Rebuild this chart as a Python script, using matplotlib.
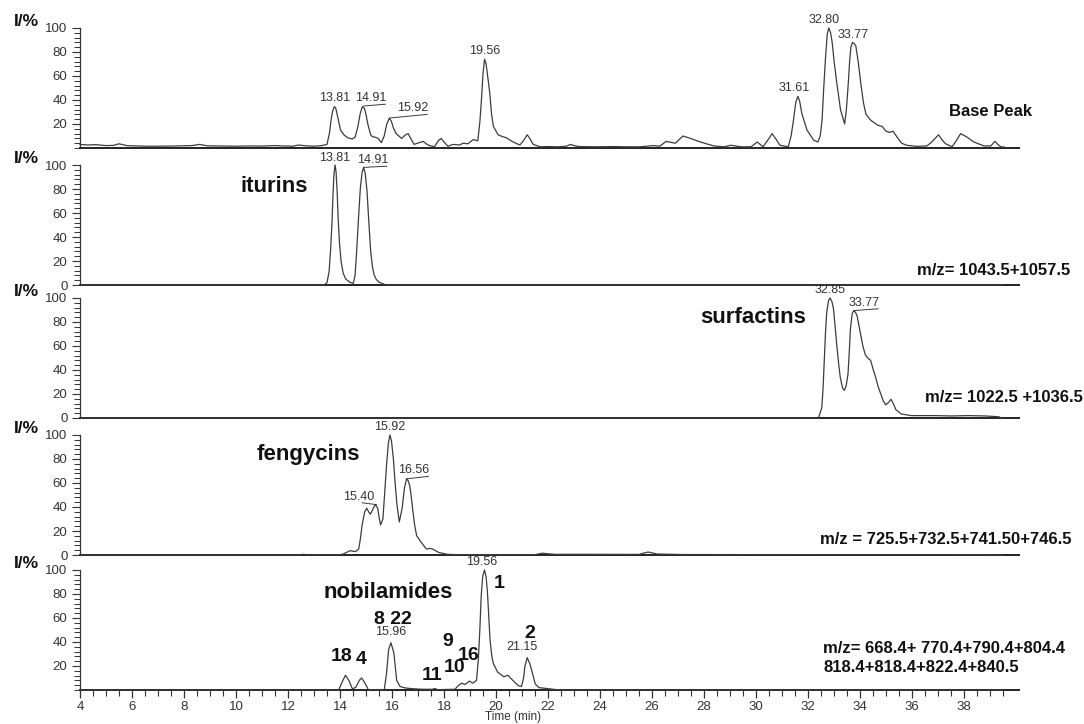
import matplotlib
matplotlib.use('Agg')
import matplotlib.pyplot as plt
import numpy as np
from matplotlib.ticker import MultipleLocator, FixedLocator

plt.rcParams['font.family'] = ['Liberation Sans', 'DejaVu Sans']

# traces: (time in min, relative intensity %)
base_peak = [(4.0, 3), (4.3, 2.5), (4.6, 2.8), (5.0, 2), (5.3, 2.2), (5.5, 3.5), (5.8, 2), (6.5, 1.5),
             (7.0, 1.5), (7.5, 1.6), (8.0, 1.8), (8.3, 2), (8.6, 3), (8.9, 1.8), (9.5, 1.6), (10.0, 1.5),
             (10.5, 1.7), (11.0, 1.6), (11.5, 2), (11.8, 1.7), (12.2, 1.5), (12.4, 2.5), (12.7, 1.8),
             (13.0, 1.5), (13.3, 2), (13.5, 3), (13.6, 13), (13.66, 24), (13.72, 31), (13.78, 34.5),
             (13.84, 33), (13.92, 25), (14.02, 15), (14.15, 11), (14.3, 8.5), (14.47, 7.5), (14.58, 9),
             (14.68, 17), (14.78, 29), (14.86, 34.5), (14.94, 33), (15.0, 28), (15.08, 19), (15.18, 11),
             (15.24, 9.5), (15.35, 9), (15.47, 8), (15.59, 4.5), (15.7, 10), (15.8, 20), (15.9, 25),
             (15.98, 22), (16.05, 17), (16.16, 12), (16.37, 8), (16.52, 11), (16.62, 12), (16.72, 8),
             (16.85, 3), (17.05, 4.5), (17.2, 5.5), (17.35, 3), (17.45, 2), (17.63, 1), (17.78, 6),
             (17.89, 8), (18.0, 5), (18.15, 1.5), (18.35, 3), (18.6, 2.5), (18.73, 4), (18.92, 3.5),
             (19.12, 7), (19.3, 6), (19.38, 22), (19.44, 40), (19.5, 62), (19.56, 74), (19.62, 70),
             (19.69, 58), (19.76, 46), (19.83, 28), (19.9, 18), (20.08, 11), (20.25, 9.5), (20.4, 8.5),
             (20.66, 5), (20.92, 2.5), (21.05, 6), (21.2, 11), (21.3, 8), (21.43, 3), (21.7, 1), (22.0, 1.2),
             (22.4, 1), (22.7, 1.5), (22.87, 3), (23.0, 2), (23.2, 1.2), (23.8, 1), (24.5, 1.2), (25.0, 1),
             (25.53, 1), (26.05, 2), (26.3, 1.5), (26.54, 5.5), (26.9, 4), (27.19, 10), (27.48, 8),
             (27.86, 5), (28.38, 1.7), (28.77, 1), (29.03, 2.3), (29.42, 1), (29.81, 1), (30.05, 5),
             (30.27, 1), (30.5, 8), (30.62, 12), (30.75, 8), (30.92, 2.3), (31.24, 1), (31.35, 10),
             (31.44, 23), (31.53, 38), (31.61, 43), (31.68, 39), (31.76, 29), (31.96, 15), (32.22, 6.5),
             (32.38, 5), (32.47, 10), (32.54, 23), (32.6, 48), (32.67, 74), (32.74, 95), (32.80, 100),
             (32.87, 96), (32.93, 88), (33.0, 73), (33.09, 57), (33.25, 32), (33.41, 20), (33.48, 33),
             (33.55, 54), (33.6, 72), (33.65, 84), (33.71, 88), (33.78, 87), (33.84, 85), (33.93, 72),
             (34.03, 54), (34.13, 38), (34.23, 28), (34.42, 23), (34.68, 19), (34.85, 18), (35.0, 14),
             (35.14, 13), (35.27, 14), (35.46, 8), (35.6, 4), (35.79, 2.3), (36.18, 1.4), (36.57, 1.7),
             (36.76, 5), (37.02, 11), (37.15, 7), (37.28, 3.7), (37.54, 1), (37.7, 6), (37.87, 12),
             (38.12, 9), (38.38, 5), (38.77, 1.7), (39.03, 1.7), (39.19, 5.6), (39.3, 3), (39.42, 1),
             (39.55, 0.8)]

iturins = [(4.0, 0), (13.39, 0), (13.5, 2), (13.58, 11), (13.64, 30), (13.69, 51), (13.73, 75),
           (13.77, 93), (13.81, 100), (13.85, 94), (13.89, 78), (13.93, 55), (13.98, 35), (14.04, 20),
           (14.12, 10), (14.22, 5), (14.38, 2.3), (14.51, 1.4), (14.58, 8), (14.64, 28), (14.71, 55),
           (14.78, 80), (14.85, 94), (14.91, 98), (14.97, 93), (15.04, 78), (15.11, 52), (15.18, 28),
           (15.25, 15), (15.31, 8.5), (15.4, 4.5), (15.51, 2.3), (15.77, 0), (39.5, 0)]

surfactins = [(4.0, 0), (32.40, 0), (32.53, 8.5), (32.58, 25), (32.62, 45), (32.67, 70), (32.72, 88),
              (32.79, 98), (32.85, 100), (32.92, 97), (32.98, 91), (33.04, 77), (33.11, 60), (33.18, 45),
              (33.24, 34), (33.33, 25), (33.40, 23), (33.47, 27), (33.54, 37), (33.59, 56), (33.63, 74),
              (33.70, 87), (33.76, 89.5), (33.83, 88), (33.89, 85), (33.96, 77), (34.04, 68), (34.12, 59),
              (34.21, 52.5), (34.30, 50), (34.41, 48), (34.5, 41), (34.60, 34), (34.70, 26), (34.80, 20),
              (34.9, 14), (34.99, 11), (35.10, 13), (35.19, 15.6), (35.28, 12), (35.38, 7), (35.58, 3.4),
              (35.97, 2), (36.88, 2), (37.52, 1.7), (38.17, 2), (38.82, 1.7), (39.34, 1), (39.45, 0)]

fengycins = [(4.0, 0), (12.4, 0), (12.59, 0.6), (12.8, 0), (14.0, 0.3), (14.12, 0.8), (14.39, 3.6),
             (14.59, 2.8), (14.72, 5), (14.78, 13), (14.85, 25), (14.95, 36), (15.03, 39), (15.1, 36),
             (15.16, 34), (15.22, 36), (15.28, 39), (15.36, 42), (15.45, 39), (15.5, 32), (15.56, 25),
             (15.65, 30), (15.72, 52), (15.79, 75), (15.86, 93), (15.92, 100), (15.98, 95), (16.05, 81),
             (16.12, 60), (16.19, 42), (16.28, 27.5), (16.39, 39), (16.48, 56), (16.56, 63.5), (16.62, 62),
             (16.68, 58), (16.74, 49), (16.79, 39), (16.87, 25), (16.95, 16), (17.12, 10.7), (17.32, 5),
             (17.45, 5.5), (17.56, 5), (17.79, 2.2), (18.12, 0.6), (18.5, 0.3), (21.5, 0.3), (21.8, 1.5),
             (22.0, 1.0), (22.3, 0.5), (22.6, 0.6), (25.5, 0.5), (25.85, 2.5), (26.2, 0.8), (27.2, 0.4),
             (39.5, 0)]

nobilamides = [(4.0, 0), (13.95, 0), (14.08, 6.6), (14.21, 12.3), (14.34, 8), (14.48, 0.9), (14.61, 2.3),
               (14.74, 8), (14.83, 10), (14.94, 6.6), (15.09, 0.3), (15.70, 0), (15.79, 13.7),
               (15.87, 33.7), (15.96, 39.4), (16.07, 31), (16.18, 8), (16.31, 2.9), (16.51, 1.7),
               (16.77, 1.1), (17.17, 0.6), (17.55, 0.6), (17.65, 1.2), (17.75, 0.3), (18.42, 0.6),
               (18.55, 3.7), (18.68, 5.7), (18.81, 4.6), (18.98, 7.4), (19.11, 5.7), (19.25, 8),
               (19.32, 25), (19.38, 51), (19.43, 78), (19.49, 95), (19.56, 100), (19.62, 94), (19.67, 82),
               (19.72, 62), (19.77, 42), (19.84, 28), (19.90, 22), (20.06, 15), (20.30, 11), (20.45, 12.3),
               (20.65, 8), (20.85, 3.7), (20.98, 2.9), (21.06, 10), (21.11, 19.4), (21.2, 27), (21.3, 22),
               (21.37, 16.6), (21.51, 5), (21.65, 2), (22.45, 0), (39.5, 0)]

traces = [base_peak, iturins, surfactins, fengycins, nobilamides]

# retention-time labels: (peak time, peak height, text x, text y, leader?)
peak_labels = [
    [(13.81, 35, 13.81, 37, False), (14.91, 35, 15.2, 36.5, True), (15.92, 25, 16.8, 28, True),
     (19.56, 74, 19.56, 76, False), (31.61, 43, 31.45, 45, False), (32.80, 100, 32.63, 102, False),
     (33.77, 88, 33.75, 89, False)],
    [(13.81, 100, 13.81, 101, False), (14.91, 98, 15.25, 99, True)],
    [(32.85, 100, 32.85, 102, False), (33.77, 89.5, 34.15, 91, True)],
    [(15.40, 42, 14.7, 43.5, True), (15.92, 100, 15.92, 102, False), (16.56, 63.5, 16.85, 65.5, True)],
    [(15.96, 39.4, 15.96, 43, False), (19.56, 100, 19.45, 102, False), (21.15, 27, 21.0, 31, False)],
]

group_names = ['iturins', 'surfactins', 'fengycins', 'nobilamides']
group_pos = [(11.47, 82), (29.9, 84), (12.8, 84), (15.87, 81)]

mz_texts = ['Base Peak', 'm/z= 1043.5+1057.5', 'm/z= 1022.5 +1036.5', 'm/z = 725.5+732.5+741.50+746.5']
mz_pos = [(1.014, 0.30), (1.055, 0.117), (1.069, 0.175), (1.056, 0.133)]

compound_nums = ['18', '4', '8 22', '11', '10', '9', '16', '1', '2']
compound_pos = [(14.08, 28), (14.83, 25.5), (16.03, 59), (17.54, 12), (18.42, 18.5), (18.15, 40),
                (18.94, 29), (20.13, 89), (21.3, 47)]

W, H = 1084, 724
fig = plt.figure(figsize=(W / 100, H / 100), dpi=100)

left_px, width_px, height_px = 80, 938.6, 120
baselines = [148, 285, 418, 555, 690]
line_col = '#3c3c3c'
axes = []
for k, base in enumerate(baselines):
    ax = fig.add_axes([left_px / W, 1 - base / H, width_px / W, height_px / H])
    t, inten = zip(*traces[k])
    ax.plot(t, inten, color=line_col, lw=0.9, clip_on=False, zorder=3)
    ax.set_xlim(4, 40.1)
    ax.set_ylim(0, 100)
    for s in ['top', 'right']:
        ax.spines[s].set_visible(False)
    ax.spines['bottom'].set_linewidth(1.4)
    ax.spines['bottom'].set_color('#222222')
    ax.spines['left'].set_linewidth(0.9)
    ax.spines['left'].set_color('#333333')
    if k in (0, 4):
        ax.yaxis.set_major_locator(FixedLocator([20, 40, 60, 80, 100]))
    else:
        ax.yaxis.set_major_locator(FixedLocator([0, 20, 40, 60, 80, 100]))
    ax.yaxis.set_minor_locator(MultipleLocator(4))
    ax.tick_params(axis='y', which='major', direction='out', length=6, width=0.8,
                   labelsize=9.5, labelcolor='#333333', color='#333333', pad=3)
    ax.tick_params(axis='y', which='minor', direction='out', length=4, width=0.7, color='#333333')
    if k < 4:
        ax.tick_params(axis='x', which='both', bottom=False, labelbottom=False)
    else:
        ax.xaxis.set_major_locator(FixedLocator(np.arange(4, 39, 2)))
        ax.xaxis.set_minor_locator(FixedLocator(np.arange(4, 39.8, 0.5)))
        ax.tick_params(axis='x', which='major', direction='out', length=6, width=0.9,
                       labelsize=9.5, labelcolor='#333333', color='#333333', pad=2)
        ax.tick_params(axis='x', which='minor', direction='out', length=4, width=0.8, color='#333333')
    ax.text(-0.0703, 1.055, 'I/%', transform=ax.transAxes, ha='left', va='center',
            fontsize=12.5, fontweight='bold', color='#111111')
    for pt, pi, tx, ty, leader in peak_labels[k]:
        ax.text(tx, ty, f'{pt:.2f}', ha='center', va='bottom', fontsize=9, color='#333333')
        if leader:
            if tx > pt:
                ax.plot([pt, tx + 0.55], [pi, ty], color=line_col, lw=0.7)
            else:
                ax.plot([pt, tx + 0.15], [pi, ty], color=line_col, lw=0.7)
    if k < 4:
        mx, my = mz_pos[k]
        ax.text(mx, my, mz_texts[k], transform=ax.transAxes, ha='right', va='center',
                fontsize=12, fontweight='bold', color='#111111')
    if k > 0:
        gx, gy = group_pos[k - 1]
        ax.text(gx, gy, group_names[k - 1], ha='center', va='center', fontsize=16,
                fontweight='bold', color='#111111')
    axes.append(ax)

ax5 = axes[-1]
for txt, (cx, cy) in zip(compound_nums, compound_pos):
    ax5.text(cx, cy, txt, ha='center', va='center', fontsize=14, fontweight='bold', color='#111111')
ax5.text(0.792, 0.346, 'm/z= 668.4+ 770.4+790.4+804.4', transform=ax5.transAxes, ha='left',
         va='center', fontsize=12, fontweight='bold', color='#111111')
ax5.text(0.792, 0.187, '818.4+818.4+822.4+840.5', transform=ax5.transAxes, ha='left',
         va='center', fontsize=12, fontweight='bold', color='#111111')

fig.text(513 / W, 1 - 717 / H, 'Time (min)', ha='center', va='center', fontsize=8.5, color='#333333')

fig.savefig('out.png', dpi=100)
